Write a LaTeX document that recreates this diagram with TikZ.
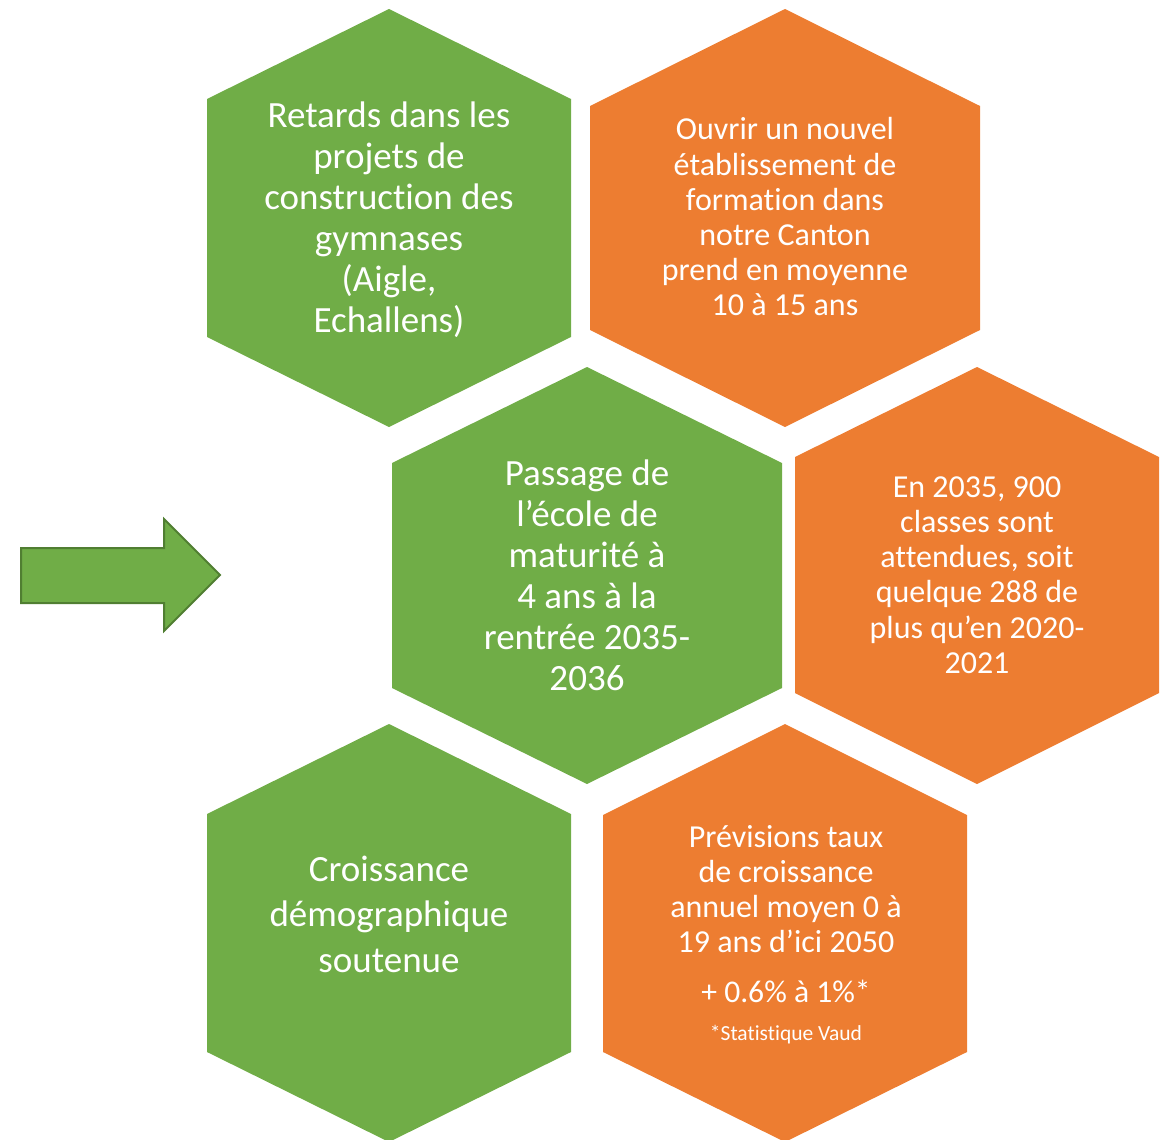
\documentclass[tikz,border=0pt]{standalone}
\usepackage{fontspec}
\setmainfont{Carlito}[Ligatures={NoCommon,NoContextual}]
\begin{document}
\begin{tikzpicture}[x=1pt,y=-1pt,
    texto/.style={text=white,align=center,inner sep=0pt},
    verdetxt/.style={texto,font=\fontsize{37}{41}\selectfont},
    naranjatxt/.style={texto,font=\fontsize{32}{35.2}\selectfont}]
        %colores
        \definecolor{verde}{HTML}{70AD47}
        \definecolor{verdeoscuro}{HTML}{507E32}
        \definecolor{naranja}{HTML}{ED7D31}

        \useasboundingbox (0,0) rectangle (1176,1140);

        % hexagonos
        \foreach \cx/\hw/\t/\a/\b/\f/\col in {389/182/9/99/337/427/verde,
                785/195/9/106/330/427/naranja,
                587/195/367/463/688/784/verde,
                977/182/367/457/693/784/naranja,
                389/182/724/814/1052/1142/verde,
                785/182/724/815/1052/1142/naranja}
        \fill[\col] (\cx,\t) -- (\cx+\hw,\a) -- (\cx+\hw,\b) -- (\cx,\f)
            -- (\cx-\hw,\b) -- (\cx-\hw,\a) -- cycle;

        % flecha
        \filldraw[fill=verde,draw=verdeoscuro,line width=2pt,line join=miter]
            (21,548) -- (164,548) -- (164,519) -- (220,575) -- (164,631)
            -- (164,603) -- (21,603) -- cycle;

        % textos
        \node[verdetxt] (retards) at (389,220)
            {Retards dans les\\projets de\\construction des\\gymnases\\(Aigle,\\Echallens)};
        \node[naranjatxt] (ouvrir) at (785,217)
            {Ouvrir un nouvel\\établissement de\\formation dans\\notre Canton\\prend en moyenne\\10 à 15 ans};
        \node[verdetxt] (passage) at (587,575)
            {Passage de\\l’école de\\maturité à\\4 ans à la\\rentrée 2035-\\2036};
        \node[naranjatxt] (classes) at (977,575)
            {En 2035, 900\\classes sont\\attendues, soit\\quelque 288 de\\plus qu’en 2020-\\2021};
        \node[texto,font=\fontsize{37}{45.5}\selectfont] (croissance) at (389,914)
            {Croissance\\démographique\\soutenue};
        \node[naranjatxt] (previsions) at (786,889)
            {Prévisions taux\\de croissance\\annuel moyen 0 à\\19 ans d’ici 2050};
        \node[texto,font=\fontsize{31.6}{35}\selectfont] (taux) at (786,991) {+ 0.6\% à 1\%*};
        \node[texto,font=\fontsize{21.5}{24}\selectfont] (source) at (786,1035) {*Statistique Vaud};
    \end{tikzpicture}
\end{document}
